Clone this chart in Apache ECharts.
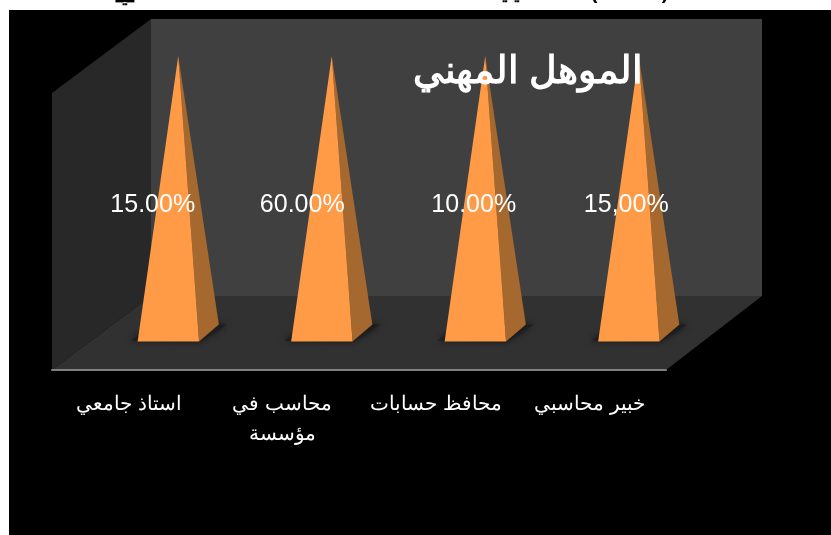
<!DOCTYPE html>
<html>
<head>
<meta charset="utf-8">
<style>
  html, body { margin: 0; padding: 0; background: #fff; }
  #chart { width: 831px; height: 535px; }
</style>
<script src="https://cdn.jsdelivr.net/npm/echarts@6/dist/echarts.min.js"></script>
</head>
<body>
<div id="chart"></div>
<script>
// Qualification of respondents: one percent-stacked pyramid per category.
const titleText = 'الموهل المهني';
const categories = ['استاذ جامعي', 'محاسب في\nمؤسسة', 'محافظ حسابات', 'خبير محاسبي'];
const values = [15, 60, 10, 15];
const valueLabels = ['15.00%', '60.00%', '10.00%', '15,00%'];

// Each column is a 100% stack holding a single series, so its share of the stack is what gets drawn.
const stackTotals = values.slice();
const shares = values.map((v, i) => (v / stackTotals[i]) * 100);

// Oblique projection of the chart box; the far wall is slightly narrower than the front edge
const DEPTH_X_LEFT = 99;
const DEPTH_X_RIGHT = 96;
const DEPTH_Y = 74;
const BAR_FRACTION = 0.4;
const BAR_DEPTH_X = 0.2;
const BAR_DEPTH_Y = 0.23;
// Horizontal shift of each data label from its category centre, and its height along the pyramid
const labelShift = [24, 20, 38, 37];
const labelLevel = 0.597;

const FRONT = '#ff9a47';
const SIDE = '#a5682e';
const FONT = '"Liberation Sans", Arial, sans-serif';

function renderChamber(params, api) {
  const c = params.coordSys;
  const L = c.x, R = c.x + c.width, T = c.y, B = c.y + c.height;
  const backL = L + DEPTH_X_LEFT, backR = R + DEPTH_X_RIGHT;
  const poly = (points, fill, z2) => ({
    type: 'polygon', z2, shape: { points }, style: { fill }
  });
  return {
    type: 'group',
    children: [
      poly([[backL, T - DEPTH_Y], [backR, T - DEPTH_Y], [backR, B - DEPTH_Y], [backL, B - DEPTH_Y]], '#404040', 1),
      poly([[L, T], [backL, T - DEPTH_Y], [backL, B - DEPTH_Y], [L, B]], '#282828', 2),
      poly([[L, B], [backL, B - DEPTH_Y], [backR, B - DEPTH_Y], [R, B]], '#313131', 3)
    ]
  };
}

function renderPyramid(params, api) {
  const i = api.value(0);
  const base = api.coord([i, 0]);
  const top = api.coord([i, api.value(1)]);
  const band = api.size([1, 0])[0];
  const halfW = (band * BAR_FRACTION) / 2;
  const halfDx = (DEPTH_X_LEFT * BAR_DEPTH_X) / 2;
  const halfDy = (DEPTH_Y * BAR_DEPTH_Y) / 2;
  const cx = base[0] + DEPTH_X_LEFT / 2;
  const cy = base[1] - DEPTH_Y / 2;
  const apex = [cx, top[1] - DEPTH_Y / 2];
  const frontLeft = [cx - halfW - halfDx, cy + halfDy];
  const frontRight = [cx + halfW - halfDx, cy + halfDy];
  const backRight = [cx + halfW + halfDx, cy - halfDy];
  const backLeft = [cx - halfW + halfDx, cy - halfDy];
  return {
    type: 'group',
    children: [
      {
        // Soft contact shadow spreading sideways from the footprint
        type: 'polygon', z2: 1,
        shape: { points: [[frontLeft[0] - 7, frontLeft[1] - 1], frontRight, [backRight[0] + 8, backRight[1]], backLeft] },
        style: { fill: '#1e1e1e', shadowBlur: 6, shadowColor: 'rgba(0,0,0,0.7)' }
      },
      { type: 'polygon', z2: 2, shape: { points: [apex, frontRight, backRight] }, style: { fill: SIDE } },
      { type: 'polygon', z2: 3, shape: { points: [apex, frontLeft, frontRight] }, style: { fill: FRONT } },
      {
        type: 'text', z2: 5,
        style: {
          text: valueLabels[i],
          x: base[0] + labelShift[i],
          y: base[1] + (top[1] - base[1]) * labelLevel,
          fill: '#fff',
          font: '25px ' + FONT,
          align: 'center',
          verticalAlign: 'middle'
        }
      }
    ]
  };
}

// Foot of the preceding page line, cut off by the top edge
const cutLine = [
  { text: 'ـيـ', x: 125, y: 6 },
  { text: 'ـيـيـ', x: 511, y: 3 },
  { text: '(', x: 594, y: 3 },
  { text: ')', x: 665, y: 3 }
];

const chart = echarts.init(document.getElementById('chart'), null, { renderer: 'canvas' });
chart.setOption({
  animation: false,
  backgroundColor: '#fff',
  graphic: [
    { type: 'rect', z: -10, shape: { x: 9, y: 10, width: 822, height: 525 }, style: { fill: '#000' } }
  ].concat(cutLine.map(t => ({
    type: 'text', z: -9, x: t.x, y: t.y,
    style: { text: t.text, fill: '#000', font: 'bold 20px ' + FONT, align: 'center', verticalAlign: 'bottom' }
  }))),
  title: {
    text: titleText,
    left: 523,
    top: 49,
    textAlign: 'center',
    textStyle: { color: '#fff', fontSize: 37.5, fontWeight: 'bold', fontFamily: FONT }
  },
  grid: { left: 52, right: 165, top: 93, bottom: 165 },
  xAxis: {
    type: 'category',
    data: categories,
    z: 5,
    axisTick: { show: false },
    axisLine: { lineStyle: { color: '#808080', width: 2 } },
    axisLabel: { color: '#fff', fontSize: 20, margin: 19, lineHeight: 30, interval: 0, fontFamily: FONT }
  },
  yAxis: { type: 'value', min: 0, max: 100, show: false },
  series: [
    { type: 'custom', z: 1, silent: true, renderItem: renderChamber, data: [[0, 0]], clip: false },
    {
      type: 'custom', z: 3, silent: true, renderItem: renderPyramid, clip: false,
      encode: { x: 0, y: 1 },
      data: shares.map((s, i) => [i, s])
    }
  ]
});
</script>
</body>
</html>
